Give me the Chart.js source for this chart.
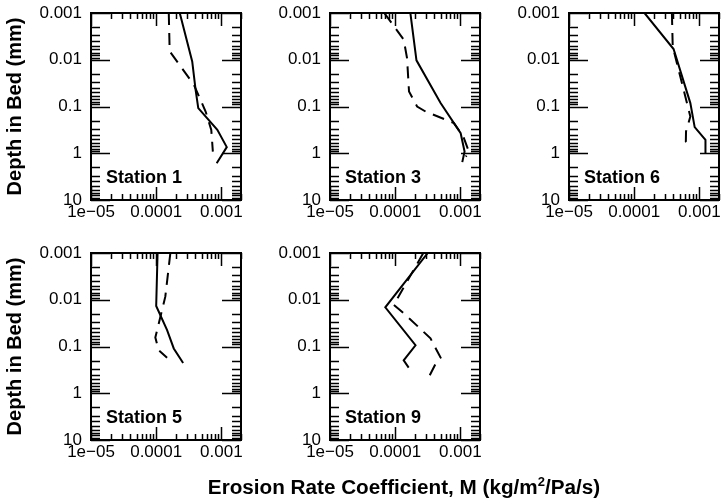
<!DOCTYPE html>
<html>
<head>
<meta charset="utf-8">
<script src="https://cdn.jsdelivr.net/npm/chart.js@4"></script>
<style>
  html, body { margin: 0; padding: 0; background: #fff; overflow: hidden; }
  #wrap { position: relative; width: 721px; height: 501px; }
  canvas { position: absolute; }
  #xtitle {
    position: absolute; left: 0; width: 808px; top: 475px;
    text-align: center; font: bold 20.7px "Liberation Sans", Arial, sans-serif; line-height: 24px; color: #000;
  }
  #xtitle span { font-size: 13px; position: relative; top: -8px; }
</style>
</head>
<body>
<div id="wrap">
  <canvas id="c1" width="251" height="240" style="left:0px;top:0px"></canvas>
  <canvas id="c3" width="251" height="240" style="left:239px;top:0px"></canvas>
  <canvas id="c6" width="251" height="240" style="left:478px;top:0px"></canvas>
  <canvas id="c5" width="251" height="240" style="left:0px;top:240px"></canvas>
  <canvas id="c9" width="251" height="240" style="left:239px;top:240px"></canvas>
  <div id="xtitle">Erosion Rate Coefficient, M (kg/m<span>2</span>/Pa/s)</div>
</div>
<script>
document.addEventListener('DOMContentLoaded', function() {
    // Axis ticks
    const xTickValues = [1e-5, 1e-4, 1e-3];
    const xTickLabels = ['1e\u221205', '0.0001', '0.001'];
    const yTickValues = [0.001, 0.01, 0.1, 1, 10];
    const yTickLabels = ['0.001', '0.01', '0.1', '1', '10'];
    const minorSteps = [2, 3, 4, 5, 6, 7, 8, 9];

    // Station 1
    const st1SolidM = [2.3e-4, 3.57e-4, 4.02e-4, 4.42e-4, 8.67e-4, 1.21e-3, 8.47e-4];
    const st1SolidDepth = [0.001, 0.0109, 0.0438, 0.108, 0.316, 0.74, 1.63];
    const st1DashM = [1.56e-4, 1.61e-4, 3.78e-4, 5.73e-4, 7.0e-4, 7.4e-4];
    const st1DashDepth = [0.001, 0.0066, 0.034, 0.128, 0.316, 0.92];

    // Station 3
    const st3SolidM = [1.71e-4, 2.12e-4, 4.97e-4, 1.01e-3, 1.16e-3, 1.07e-3];
    const st3SolidDepth = [0.001, 0.0103, 0.0845, 0.372, 0.92, 1.55];
    const st3DashM = [6.8e-5, 1.35e-4, 1.52e-4, 1.63e-4, 2.17e-4, 2.92e-4, 7.96e-4, 1.11e-3, 1.36e-3, 1.21e-3];
    const st3DashDepth = [0.001, 0.0037, 0.0092, 0.0478, 0.1, 0.128, 0.226, 0.44, 0.95, 1.18];

    // Station 6
    const st6SolidM = [1.44e-4, 4.02e-4, 7.27e-4, 8.47e-4, 1.24e-3, 1.24e-3];
    const st6SolidDepth = [0.001, 0.0059, 0.0845, 0.276, 0.516, 1.03];
    const st6DashM = [3.79e-4, 3.9e-4, 7.27e-4, 6.24e-4, 6.2e-4, 7.27e-4];
    const st6DashDepth = [0.001, 0.0052, 0.164, 0.343, 0.56, 0.69];

    // Station 5
    const st5SolidM = [1.05e-4, 1.0e-4, 1.47e-4, 1.86e-4, 2.59e-4];
    const st5SolidDepth = [0.001, 0.0136, 0.0446, 0.11, 0.225];
    const st5DashM = [1.65e-4, 1.38e-4, 9.7e-5, 1.09e-4, 1.47e-4];
    const st5DashDepth = [0.001, 0.0086, 0.064, 0.12, 0.173];

    // Station 9
    const st9SolidM = [3.16e-4, 7.05e-5, 2.05e-4, 1.35e-4, 1.61e-4];
    const st9SolidDepth = [0.001, 0.0145, 0.094, 0.197, 0.283];
    const st9DashM = [2.7e-4, 9.5e-5, 1.44e-4, 3.48e-4, 4.97e-4, 4.31e-4, 3.28e-4];
    const st9DashDepth = [0.001, 0.0129, 0.021, 0.067, 0.173, 0.214, 0.45];

    Chart.defaults.font.family = '"Liberation Sans", Arial, sans-serif';
    Chart.defaults.color = '#000';

    function pts(xs, ys) {
        return xs.map((x, i) => ({ x: x, y: ys[i] }));
    }

    // frame, inward ticks and station label
    const framePlugin = {
        id: 'frame',
        afterDraw(chart, args, opts) {
            const ctx = chart.ctx;
            const a = chart.chartArea;
            const sx = chart.scales.x, sy = chart.scales.y;
            ctx.save();
            ctx.strokeStyle = '#000';
            ctx.lineWidth = 1.5;
            ctx.beginPath();
            xTickValues.forEach(d => {
                [1].concat(minorSteps).forEach(m => {
                    const v = d * m;
                    if (v > sx.max) return;
                    const px = Math.round(sx.getPixelForValue(v)) + 0.5;
                    const len = m === 1 ? 13 : 6;
                    ctx.moveTo(px, a.bottom); ctx.lineTo(px, a.bottom - len);
                    ctx.moveTo(px, a.top); ctx.lineTo(px, a.top + len);
                });
            });
            yTickValues.forEach(d => {
                [1].concat(minorSteps).forEach(m => {
                    const v = d * m;
                    if (v > sy.max) return;
                    const py = Math.round(sy.getPixelForValue(v)) + 0.5;
                    const len = m === 1 ? 19 : 9;
                    ctx.moveTo(a.left, py); ctx.lineTo(a.left + len, py);
                    ctx.moveTo(a.right, py); ctx.lineTo(a.right - len, py);
                });
            });
            ctx.stroke();
            ctx.lineWidth = 2;
            ctx.strokeRect(a.left, a.top, a.right - a.left, a.bottom - a.top);
            ctx.font = 'bold 18px "Liberation Sans", Arial, sans-serif';
            ctx.fillStyle = '#000';
            ctx.textBaseline = 'middle';
            ctx.fillText(opts.label, a.left + 15, a.bottom - 22);
            ctx.restore();
        }
    };

    function makePanel(id, label, solidM, solidD, dashM, dashD, showTitle) {
        new Chart(document.getElementById(id).getContext('2d'), {
            type: 'line',
            data: {
                datasets: [{
                    data: pts(solidM, solidD),
                    borderColor: '#000',
                    borderWidth: 2,
                    pointRadius: 0,
                    fill: false
                }, {
                    data: pts(dashM, dashD),
                    borderColor: '#000',
                    borderWidth: 2,
                    borderDash: [12, 8],
                    pointRadius: 0,
                    fill: false
                }]
            },
            options: {
                responsive: false,
                animation: false,
                layout: { padding: { top: 13, right: 10, left: 0, bottom: 0 } },
                plugins: {
                    legend: { display: false },
                    tooltip: { enabled: false },
                    frame: { label: label }
                },
                scales: {
                    x: {
                        type: 'logarithmic',
                        min: 1e-5,
                        max: 0.002,
                        grid: { display: false, drawTicks: false },
                        border: { display: false },
                        afterBuildTicks: s => { s.ticks = xTickValues.map(v => ({ value: v })); },
                        afterFit: s => { s.height = 40; s.paddingLeft = 0; s.paddingRight = 0; },
                        ticks: {
                            autoSkip: false,
                            maxRotation: 0,
                            padding: 2,
                            font: { size: 17 },
                            callback: v => xTickLabels[xTickValues.indexOf(v)]
                        }
                    },
                    y: {
                        type: 'logarithmic',
                        reverse: true,
                        min: 0.001,
                        max: 10,
                        grid: { display: false, drawTicks: false },
                        border: { display: false },
                        afterBuildTicks: s => { s.ticks = yTickValues.map(v => ({ value: v })); },
                        afterFit: s => { s.width = 91; s.paddingTop = 0; s.paddingBottom = 0; },
                        title: {
                            display: showTitle,
                            text: 'Depth in Bed (mm)',
                            font: { size: 20, weight: 'bold' },
                            padding: { top: 3, bottom: 0 }
                        },
                        ticks: {
                            autoSkip: false,
                            padding: 9,
                            font: { size: 17 },
                            callback: v => yTickLabels[yTickValues.indexOf(v)]
                        }
                    }
                }
            },
            plugins: [framePlugin]
        });
    }

    makePanel('c1', 'Station 1', st1SolidM, st1SolidDepth, st1DashM, st1DashDepth, true);
    makePanel('c3', 'Station 3', st3SolidM, st3SolidDepth, st3DashM, st3DashDepth, false);
    makePanel('c6', 'Station 6', st6SolidM, st6SolidDepth, st6DashM, st6DashDepth, false);
    makePanel('c5', 'Station 5', st5SolidM, st5SolidDepth, st5DashM, st5DashDepth, true);
    makePanel('c9', 'Station 9', st9SolidM, st9SolidDepth, st9DashM, st9DashDepth, false);
});
</script>
</body>
</html>
